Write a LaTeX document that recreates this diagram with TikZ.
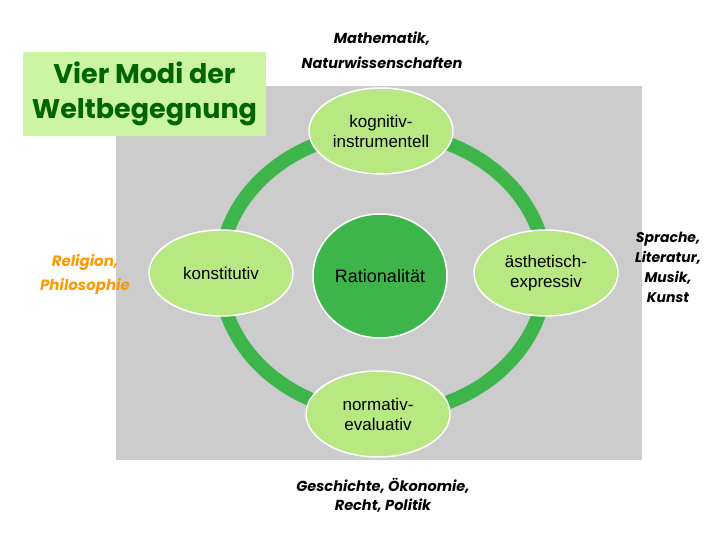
\documentclass[tikz,border=0pt]{standalone}
\usepackage{fontspec}
\setmainfont{Liberation Sans}
\newfontfamily\titlefont{Poppins}
\newfontfamily\areafont{Poppins}
\usetikzlibrary{shapes.geometric}
\definecolor{panelgray}{RGB}{204,204,204}
\definecolor{ringgreen}{RGB}{61,181,74}
\definecolor{leafgreen}{RGB}{184,232,130}
\definecolor{titlegreen}{RGB}{204,245,163}
\definecolor{darkleaf}{RGB}{0,100,0}
\definecolor{religion}{RGB}{255,153,0}

\begin{document}
\begin{tikzpicture}[x=1pt, y=-1pt,
  modus/.style={ellipse, draw=white, line width=1.5pt, fill=leafgreen,
    minimum width=144pt, minimum height=86pt, inner sep=0pt, align=center,
    font=\fontsize{17}{20}\selectfont},
  area/.style={align=center, inner sep=0pt,
    font=\areafont\bfseries\itshape\fontsize{14}{20}\selectfont}]
  \useasboundingbox (0,0) rectangle (720,540);
  % grey panel and ring
  \fill[panelgray] (116,86) rectangle (642,460);
  \coordinate (mid) at (383,273);
  \draw[ringgreen, line width=14pt] (mid) ellipse [x radius=163pt, y radius=141pt];

  % title
  \node[fill=titlegreen, minimum width=243pt, minimum height=84pt, align=center,
    text=darkleaf, font=\titlefont\bfseries\fontsize{27}{35}\selectfont]
    (title) at (144.5,94) {Vier Modi der\\Weltbegegnung};

  % the four modes round the centre
  \node[modus] (kog) at (381,131) {kognitiv-\\instrumentell};
  \node[modus] (kon) at (221,273) {konstitutiv};
  \node[modus] (aes) at (546,273) {ästhetisch-\\expressiv};
  \node[modus] (nor) at (378,414) {normativ-\\evaluativ};
  \node[ellipse, draw=white, line width=1.5pt, fill=ringgreen, minimum width=134pt,
    minimum height=124pt, inner sep=0pt, font=\fontsize{18}{20}\selectfont]
    (rat) at (380,276) {Rationalität};

  % fields
  \node[area, font=\areafont\bfseries\itshape\fontsize{14.5}{25}\selectfont]
    (math) at (382,50) {Mathematik,\\Naturwissenschaften};
  \node[area, text=religion, font=\areafont\bfseries\itshape\fontsize{15}{24}\selectfont]
    (rel) at (85,274) {Religion,\\Philosophie};
  \node[area] (kunst) at (668,267) {Sprache,\\Literatur,\\Musik,\\Kunst};
  \node[area, font=\areafont\bfseries\itshape\fontsize{14.5}{19}\selectfont]
    (gesch) at (383,495) {Geschichte, Ökonomie,\\Recht, Politik};
\end{tikzpicture}
\end{document}
